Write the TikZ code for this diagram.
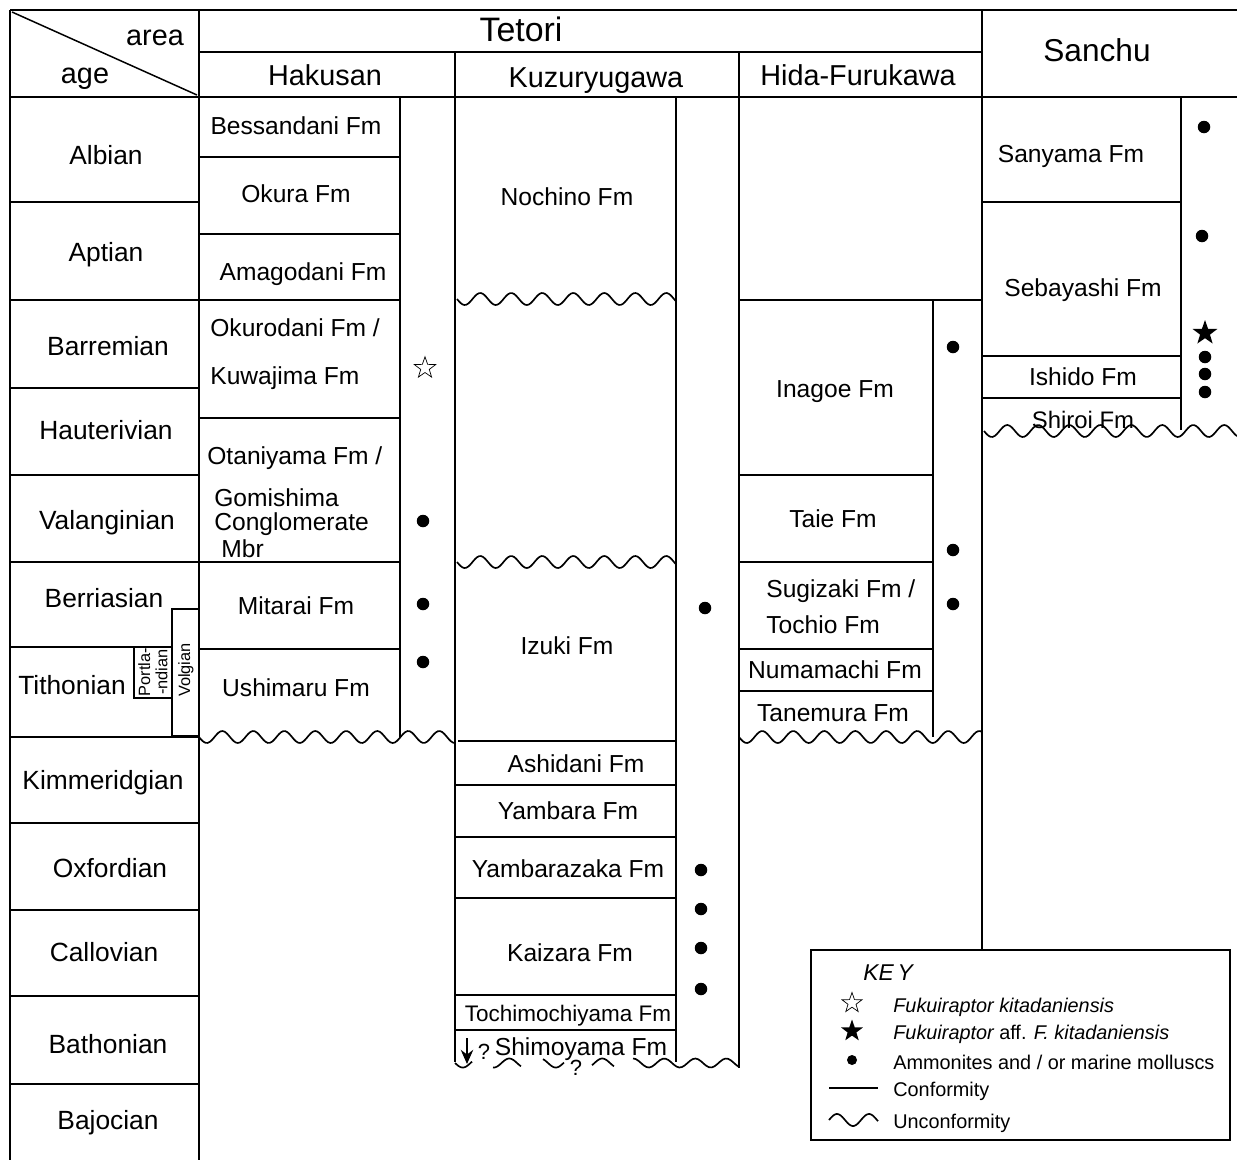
\documentclass[tikz,border=0pt]{standalone}
\usepackage{fontspec}
\setmainfont{Liberation Sans}
\usetikzlibrary{shapes.geometric,arrows.meta}
\begin{document}
\begin{tikzpicture}[x=0.02cm,y=-0.02cm,
  thk/.style={line width=1.7pt},
  med/.style={line width=1.15pt},
  thn/.style={line width=0.85pt},
  wv/.style={line width=0.95pt},
  txt/.style={inner sep=0pt, anchor=mid, yshift=-0.1cm},
  agetxt/.style={txt, font=\fontsize{15}{18}\selectfont},
  fmtxt/.style={txt, font=\fontsize{14}{17}\selectfont},
  fmw/.style={fmtxt, anchor=mid west},
  hdtxt/.style={txt, font=\fontsize{16.4}{19}\selectfont},
  keytxt/.style={txt, font=\fontsize{11.3}{13}\selectfont, anchor=mid west},
  fdot/.style={circle, fill=black, inner sep=0pt, minimum size=0.25cm},
  kdot/.style={circle, fill=black, inner sep=0pt, minimum size=0.2cm},
  ostar/.style={star, star points=5, star point ratio=2.5, draw, line width=0.4pt, inner sep=0pt, minimum size=0.45cm},
  fstar/.style={star, star points=5, star point ratio=2.5, fill=black, inner sep=0pt, minimum size=0.52cm},
  small/.style={font=\fontsize{9.3}{9.8}\selectfont, inner sep=0pt, rotate=90, align=center}
]
\def\wavyline#1#2#3{\draw[wv] plot[domain=#1:#2, samples=120, smooth] (\x,{#3+6*sin((\x-#1)*11.6129)});}
\useasboundingbox (0,0) rectangle (1237,1160);

% ---------- frame and header ----------
\draw[thk] (10,10) -- (1237,10);
\draw[thk] (10,97) -- (1237,97);
\draw[med] (10,10) -- (10,1160);
\draw[thk] (199,10) -- (199,1160);
\draw[thn] (12,12) -- (197,95);
\node[hdtxt] (area) at (155,36) {area};
\node[hdtxt] (age) at (85,74) {age};
\draw[thn] (199,52) -- (982,52);
\draw[med] (982,10) -- (982,950);
\draw[med] (455,52) -- (455,1062);
\draw[med] (739,52) -- (739,1068);
\node[txt, font=\fontsize{19.3}{22}\selectfont] (tetori) at (521,32) {Tetori};
\node[hdtxt] (hakusan) at (325,76) {Hakusan};
\node[hdtxt] (kuzu) at (596,78) {Kuzuryugawa};
\node[hdtxt] (hida) at (858,76) {Hida-Furukawa};
\node[txt, font=\fontsize{18}{21}\selectfont] (sanchu) at (1097,52) {Sanchu};

% ---------- ages ----------
\foreach \y in {202,300,388,475,562,737,823,910,996,1084} \draw[med] (10,\y) -- (199,\y);
\draw[med] (10,647) -- (172,647);
\draw[thn] (172,609) rectangle (199,736);
\draw[thn] (134,647) rectangle (172,698);
\node[agetxt] (albian) at (106,155) {Albian};
\node[agetxt] (aptian) at (106,252) {Aptian};
\node[agetxt] (barrem) at (108,346) {Barremian};
\node[agetxt] (hauter) at (106,430) {Hauterivian};
\node[agetxt] (valang) at (107,520) {Valanginian};
\node[agetxt] (berri) at (104,598) {Berriasian};
\node[agetxt] (tithon) at (72,685) {Tithonian};
\node[agetxt] (kimm) at (103,780) {Kimmeridgian};
\node[agetxt] (oxf) at (110,868) {Oxfordian};
\node[agetxt] (callov) at (104,952) {Callovian};
\node[agetxt] (bathon) at (108,1044) {Bathonian};
\node[agetxt] (bajoc) at (108,1120) {Bajocian};
\node[small] (portl) at (153,672) {Portla-\\-ndian};
\node[small] (volg) at (186,670) {Volgian};

% ---------- Hakusan ----------
\draw[thn] (400,97) -- (400,737);
\foreach \y in {157,234,300,418,562,649} \draw[thn] (199,\y) -- (400,\y);
\wavyline{199}{455}{737}
\node[fmtxt] (bess) at (296,125) {Bessandani Fm};
\node[fmtxt] (okura) at (296,193) {Okura Fm};
\node[fmtxt] (amago) at (303,271) {Amagodani Fm};
\node[fmw] (okuro) at (210,327) {Okurodani Fm /};
\node[fmw] (kuwa) at (210,375) {Kuwajima Fm};
\node[fmw] (otani) at (207,455) {Otaniyama Fm /};
\node[fmw] (gomi) at (214,497) {Gomishima};
\node[fmw] (congl) at (214,521) {Conglomerate};
\node[fmw] (mbr) at (221,548) {Mbr};
\node[fmtxt] (mitarai) at (296,605) {Mitarai Fm};
\node[fmtxt] (ushi) at (296,687) {Ushimaru Fm};
\node[ostar] (hs1) at (425,368) {};
\node[fdot] (hd1) at (423,521) {};
\node[fdot] (hd2) at (423,604) {};
\node[fdot] (hd3) at (423,662) {};

% ---------- Kuzuryugawa ----------
\draw[med] (676,97) -- (676,1062);
\wavyline{457}{676}{299}
\wavyline{457}{676}{562}
\draw[thn] (458,741) -- (676,741);
\foreach \y in {785,837,898,995,1030} \draw[thn] (455,\y) -- (676,\y);
\node[fmtxt] (noch) at (567,196) {Nochino Fm};
\node[fmtxt] (izuki) at (567,645) {Izuki Fm};
\node[fmtxt] (ashi) at (576,763) {Ashidani Fm};
\node[fmtxt] (yamb) at (568,810) {Yambara Fm};
\node[fmtxt] (yambz) at (568,868) {Yambarazaka Fm};
\node[fmtxt] (kaiz) at (570,952) {Kaizara Fm};
\node[fmtxt, font=\fontsize{12.8}{15}\selectfont] (tochi) at (568,1012) {Tochimochiyama Fm};
\node[fmtxt] (shimo) at (581,1046) {Shimoyama Fm};
\node[txt, font=\fontsize{12.5}{14}\selectfont] (q1) at (484,1050) {?};
\node[txt, font=\fontsize{12.5}{14}\selectfont] (q2) at (576,1066) {?};
\coordinate (arrtop) at (467,1038);
\coordinate (arrbot) at (467,1064);
\draw[line width=1.4pt, -{Stealth[length=8pt,width=7pt]}] (arrtop) -- (arrbot);
\foreach \a/\b in {455/472,493/521,543/564,592/614,633/739}
  \draw[wv] plot[domain=\a:\b, samples=40, smooth] (\x,{1063+4.5*sin((\x-455)*11.6129)});
\node[fdot] (kd1) at (705,608) {};
\node[fdot] (kd2) at (701,870) {};
\node[fdot] (kd3) at (701,909) {};
\node[fdot] (kd4) at (701,948) {};
\node[fdot] (kd5) at (701,989) {};

% ---------- Hida-Furukawa ----------
\draw[thn] (739,300) -- (982,300);
\draw[thn] (933,300) -- (933,737);
\foreach \y in {475,562,649,691} \draw[thn] (739,\y) -- (933,\y);
\wavyline{739}{982}{737}
\node[fmtxt] (inag) at (835,388) {Inagoe Fm};
\node[fmtxt] (taie) at (833,518) {Taie Fm};
\node[fmw] (sugi) at (766,588) {Sugizaki Fm /};
\node[fmw] (tochio) at (766,624) {Tochio Fm};
\node[fmtxt] (numa) at (835,669) {Numamachi Fm};
\node[fmtxt] (tane) at (833,712) {Tanemura Fm};
\node[fdot] (fd1) at (953,347) {};
\node[fdot] (fd2) at (953,550) {};
\node[fdot] (fd3) at (953,604) {};

% ---------- Sanchu ----------
\draw[thn] (1181,97) -- (1181,430);
\foreach \y in {202,356,398} \draw[thn] (982,\y) -- (1181,\y);
\wavyline{984}{1237}{431}
\node[fmtxt] (sany) at (1071,153) {Sanyama Fm};
\node[fmtxt] (seba) at (1083,287) {Sebayashi Fm};
\node[fmtxt] (ishi) at (1083,376) {Ishido Fm};
\node[fmtxt, font=\fontsize{13.6}{16}\selectfont] (shir) at (1083,419) {Shiroi Fm};
\node[fdot] (sd1) at (1204,127) {};
\node[fdot] (sd2) at (1202,236) {};
\node[fstar] (ss1) at (1205,333) {};
\node[fdot] (sd3) at (1205,357) {};
\node[fdot] (sd4) at (1205,374) {};
\node[fdot] (sd5) at (1205,392) {};

% ---------- key ----------
\draw[thn] (811,950) rectangle (1230,1140);
\node[txt, font=\fontsize{13}{15}\selectfont\itshape, anchor=mid west] (keyt) at (863,971) {KE\,Y};
\node[ostar, minimum size=0.42cm] (k1) at (852,1003) {};
\node[keytxt] (k1t) at (893,1003) {\itshape Fukuiraptor kitadaniensis};
\node[fstar, minimum size=0.46cm] (k2) at (852,1031) {};
\node[keytxt] (k2t) at (893,1030) {\itshape Fukuiraptor \upshape aff. \itshape F. kitadaniensis};
\node[kdot] (k3) at (852,1060) {};
\node[keytxt] (k3t) at (893,1060) {Ammonites and / or marine molluscs};
\coordinate (kc1) at (829,1088);
\coordinate (kc2) at (878,1088);
\draw[thn] (kc1) -- (kc2);
\node[keytxt] (k4t) at (893,1087) {Conformity};
\draw[wv] plot[domain=829:878, samples=60, smooth] (\x,{1120-6*sin((\x-829)*11.25)});
\node[keytxt] (k5t) at (893,1119) {Unconformity};
\end{tikzpicture}
\end{document}
